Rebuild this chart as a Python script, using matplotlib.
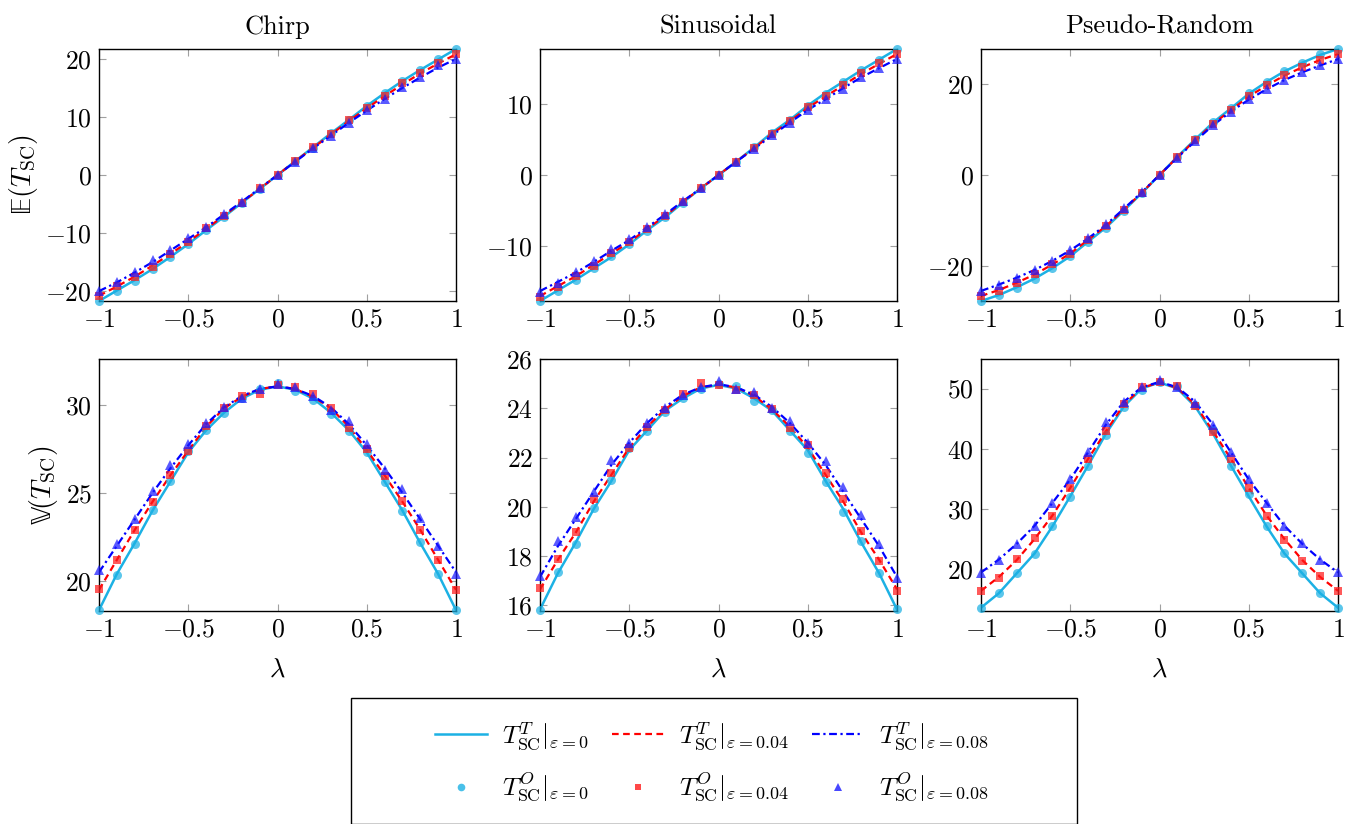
import matplotlib
matplotlib.use('Agg')
import matplotlib.pyplot as plt
from matplotlib.patches import Rectangle
from matplotlib.lines import Line2D

plt.rcParams['mathtext.fontset'] = 'cm'
plt.rcParams['font.family'] = ['cmr10', 'DejaVu Serif']
plt.rcParams['axes.formatter.use_mathtext'] = True

lam = [-1.0, -0.9, -0.8, -0.7, -0.6, -0.5, -0.4, -0.3, -0.2, -0.1, 0.0,
       0.1, 0.2, 0.3, 0.4, 0.5, 0.6, 0.7, 0.8, 0.9, 1.0]

titles = ['Chirp', 'Sinusoidal', 'Pseudo-Random']

# ---- expectation, theory (lines) ----
chirp_E_t0 = [-21.7, -19.9, -18.1, -16.2, -14.1, -11.9, -9.5, -7.2, -4.8, -2.4, 0.0,
              2.4, 4.8, 7.2, 9.5, 11.9, 14.1, 16.2, 18.1, 19.9, 21.7]
chirp_E_t4 = [-20.8, -19.2, -17.5, -15.6, -13.6, -11.5, -9.3, -7.0, -4.7, -2.4, 0.0,
              2.4, 4.7, 7.0, 9.3, 11.5, 13.6, 15.6, 17.5, 19.2, 20.8]
chirp_E_t8 = [-20.0, -18.5, -16.8, -15.0, -13.0, -11.0, -9.0, -6.8, -4.6, -2.3, 0.0,
              2.3, 4.6, 6.8, 9.0, 11.1, 13.1, 15.0, 16.8, 18.5, 20.0]
sin_E_t0 = [-17.8, -16.3, -14.8, -13.2, -11.6, -9.8, -7.8, -6.0, -3.9, -1.9, 0.0,
            1.9, 3.9, 6.0, 7.8, 9.8, 11.6, 13.2, 14.8, 16.3, 17.8]
sin_E_t4 = [-17.1, -15.7, -14.3, -12.7, -11.1, -9.5, -7.6, -5.8, -3.8, -1.9, 0.0,
            1.9, 3.8, 5.8, 7.6, 9.5, 11.1, 12.7, 14.3, 15.7, 17.1]
sin_E_t8 = [-16.4, -15.1, -13.8, -12.3, -10.7, -9.2, -7.4, -5.6, -3.7, -1.9, 0.0,
            1.9, 3.7, 5.6, 7.4, 9.2, 10.7, 12.3, 13.8, 15.1, 16.4]
prn_E_t0 = [-27.6, -26.3, -24.6, -22.7, -20.4, -17.8, -14.6, -11.5, -7.8, -4.0, 0.0,
            4.0, 7.8, 11.5, 14.6, 17.8, 20.4, 22.7, 24.6, 26.3, 27.6]
prn_E_t4 = [-26.5, -25.2, -23.6, -21.8, -19.6, -17.2, -14.2, -11.2, -7.6, -3.9, 0.0,
            3.9, 7.6, 11.2, 14.2, 17.2, 19.6, 21.8, 23.6, 25.2, 26.5]
prn_E_t8 = [-25.4, -24.0, -22.5, -20.8, -18.8, -16.5, -13.9, -10.9, -7.4, -3.8, 0.0,
            3.8, 7.4, 10.9, 13.9, 16.5, 18.8, 20.8, 22.5, 24.0, 25.4]

# ---- expectation, observed (markers) ----
chirp_E_o0 = [-21.7, -20.0, -18.2, -16.2, -14.1, -11.8, -9.5, -7.2, -4.8, -2.4, 0.0,
              2.4, 4.7, 7.3, 9.4, 11.9, 14.2, 16.2, 18.1, 20.0, 21.7]
chirp_E_o4 = [-20.9, -19.2, -17.6, -15.8, -13.6, -11.6, -9.2, -7.0, -4.8, -2.3, 0.0,
              2.4, 4.8, 7.0, 9.4, 11.5, 13.6, 15.8, 17.5, 19.3, 20.8]
chirp_E_o8 = [-20.0, -18.4, -16.7, -14.7, -12.9, -10.9, -8.9, -6.7, -4.6, -2.3, 0.0,
              2.3, 4.6, 6.8, 8.9, 11.2, 13.1, 15.1, 16.8, 19.0, 20.0]
sin_E_o0 = [-17.8, -16.4, -14.9, -13.2, -11.5, -9.8, -7.9, -5.9, -3.9, -1.9, 0.0,
            1.9, 3.9, 6.0, 7.8, 9.8, 11.5, 13.2, 14.8, 16.3, 17.8]
sin_E_o4 = [-17.2, -15.8, -14.3, -12.8, -11.0, -9.5, -7.6, -5.8, -3.8, -1.9, 0.0,
            1.9, 3.8, 5.8, 7.6, 9.6, 11.1, 12.7, 14.4, 15.8, 17.1]
sin_E_o8 = [-16.5, -15.2, -13.7, -12.1, -10.5, -9.0, -7.3, -5.5, -3.7, -1.8, 0.0,
            1.9, 3.7, 5.6, 7.4, 9.2, 10.8, 12.2, 13.8, 15.1, 16.4]
prn_E_o0 = [-27.6, -26.3, -24.7, -22.7, -20.4, -17.8, -14.7, -11.5, -7.8, -4.0, 0.0,
            4.0, 7.8, 11.6, 14.7, 17.9, 20.4, 22.7, 24.6, 26.4, 27.6]
prn_E_o4 = [-26.6, -25.3, -23.6, -21.7, -19.6, -17.3, -14.3, -11.2, -7.7, -3.9, 0.0,
            3.9, 7.6, 11.2, 14.3, 17.2, 19.7, 21.8, 23.7, 25.3, 26.5]
prn_E_o8 = [-25.5, -24.0, -22.5, -20.8, -18.8, -16.4, -13.9, -10.8, -7.3, -3.8, 0.0,
            3.8, 7.5, 10.9, 13.8, 16.6, 18.9, 20.8, 22.5, 24.1, 25.4]

# ---- variance, theory (lines) ----
chirp_V_t0 = [18.35, 20.4, 22.15, 24.0, 25.65, 27.3, 28.55, 29.55, 30.35, 30.85, 31.05,
              30.85, 30.35, 29.55, 28.55, 27.3, 25.65, 24.0, 22.15, 20.4, 18.35]
chirp_V_t4 = [19.5, 21.2, 22.9, 24.5, 26.0, 27.4, 28.75, 29.8, 30.45, 30.9, 31.05,
              30.9, 30.45, 29.8, 28.75, 27.45, 26.0, 24.5, 22.9, 21.2, 19.5]
chirp_V_t8 = [20.5, 22.0, 23.5, 25.0, 26.4, 27.7, 28.9, 29.85, 30.5, 30.9, 31.05,
              30.9, 30.5, 29.85, 28.9, 27.7, 26.4, 25.0, 23.5, 22.0, 20.5]
sin_V_t0 = [15.83, 17.3, 18.55, 19.9, 21.05, 22.3, 23.1, 23.9, 24.4, 24.8, 24.95,
            24.8, 24.4, 23.9, 23.1, 22.3, 21.05, 19.9, 18.55, 17.3, 15.83]
sin_V_t4 = [16.65, 17.85, 18.95, 20.2, 21.3, 22.4, 23.25, 23.95, 24.5, 24.85, 24.95,
            24.85, 24.5, 23.95, 23.25, 22.4, 21.3, 20.2, 18.95, 17.85, 16.65]
sin_V_t8 = [17.15, 18.4, 19.5, 20.6, 21.7, 22.6, 23.4, 24.05, 24.55, 24.85, 24.98,
            24.85, 24.55, 24.05, 23.4, 22.6, 21.7, 20.6, 19.5, 18.4, 17.15]
prn_V_t0 = [13.6, 16.0, 19.3, 22.6, 27.1, 32.1, 37.2, 42.5, 47.0, 50.0, 51.0,
            50.0, 47.0, 42.5, 37.2, 32.1, 27.1, 22.6, 19.3, 16.0, 13.6]
prn_V_t4 = [16.4, 18.7, 21.5, 25.0, 28.9, 33.5, 38.3, 42.9, 47.3, 50.1, 51.0,
            50.1, 47.3, 42.9, 38.3, 33.5, 28.9, 25.0, 21.5, 18.7, 16.4]
prn_V_t8 = [19.45, 21.6, 24.2, 27.2, 31.0, 34.9, 39.4, 44.0, 47.8, 50.2, 51.1,
            50.2, 47.8, 44.0, 39.4, 34.9, 31.0, 27.2, 24.2, 21.6, 19.45]

# ---- variance, observed (markers) ----
chirp_V_o0 = [18.35, 20.36, 22.1, 24.03, 25.7, 27.36, 28.58, 29.55, 30.4, 30.9, 31.23,
              30.8, 30.3, 29.5, 28.5, 27.3, 25.6, 24.0, 22.2, 20.4, 18.35]
chirp_V_o4 = [19.55, 21.2, 22.9, 24.5, 26.0, 27.4, 28.8, 29.8, 30.5, 30.6, 31.1,
              31.0, 30.6, 29.8, 28.7, 27.5, 25.95, 24.55, 22.9, 21.2, 19.5]
chirp_V_o8 = [20.6, 22.1, 23.5, 25.1, 26.6, 27.8, 28.95, 29.9, 30.4, 30.9, 31.2,
              31.0, 30.5, 29.7, 29.1, 27.75, 26.3, 25.2, 23.6, 22.0, 20.4]
sin_V_o0 = [15.83, 17.37, 18.5, 19.97, 21.1, 22.37, 23.07, 23.86, 24.4, 24.8, 24.97,
            24.9, 24.3, 23.93, 23.07, 22.2, 21.0, 19.8, 18.6, 17.3, 15.87]
sin_V_o4 = [16.72, 17.87, 18.97, 20.3, 21.37, 22.4, 23.25, 23.93, 24.58, 25.03, 24.96,
            24.75, 24.55, 23.97, 23.2, 22.5, 21.37, 20.3, 19.0, 17.8, 16.6]
sin_V_o8 = [17.2, 18.6, 19.6, 20.6, 21.9, 22.6, 23.4, 24.0, 24.55, 24.87, 25.1,
            24.8, 24.68, 24.03, 23.5, 22.6, 21.86, 20.8, 19.66, 18.5, 17.1]
prn_V_o0 = [13.6, 16.0, 19.3, 22.5, 27.1, 31.9, 37.2, 42.3, 46.9, 49.7, 51.1,
            50.4, 47.2, 43.05, 37.1, 32.4, 27.1, 22.6, 19.3, 16.1, 13.6]
prn_V_o4 = [16.4, 18.5, 21.7, 25.1, 28.9, 33.5, 38.3, 42.9, 47.5, 50.3, 51.0,
            50.4, 47.1, 42.8, 38.3, 33.5, 28.9, 24.8, 21.3, 18.9, 16.45]
prn_V_o8 = [19.4, 21.5, 24.2, 27.1, 31.0, 34.9, 39.4, 44.4, 47.8, 50.2, 51.4,
            50.2, 47.6, 44.0, 39.4, 34.9, 31.0, 27.2, 24.3, 21.5, 19.5]

theory = [[(chirp_E_t0, chirp_E_t4, chirp_E_t8), (sin_E_t0, sin_E_t4, sin_E_t8), (prn_E_t0, prn_E_t4, prn_E_t8)],
          [(chirp_V_t0, chirp_V_t4, chirp_V_t8), (sin_V_t0, sin_V_t4, sin_V_t8), (prn_V_t0, prn_V_t4, prn_V_t8)]]
observed = [[(chirp_E_o0, chirp_E_o4, chirp_E_o8), (sin_E_o0, sin_E_o4, sin_E_o8), (prn_E_o0, prn_E_o4, prn_E_o8)],
            [(chirp_V_o0, chirp_V_o4, chirp_V_o8), (sin_V_o0, sin_V_o4, sin_V_o8), (prn_V_o0, prn_V_o4, prn_V_o8)]]

ylims = [[(-21.7, 21.7), (-17.8, 17.8), (-27.6, 27.6)],
         [(18.3, 32.6), (15.77, 26.0), (13.05, 54.9)]]
yticks = [[[-20, -10, 0, 10, 20], [-10, 0, 10], [-20, 0, 20]],
          [[20, 25, 30], [16, 18, 20, 22, 24, 26], [20, 30, 40, 50]]]
xticks = [-1, -0.5, 0, 0.5, 1]
xticklabels = ['$-1$', '$-0.5$', '$0$', '$0.5$', '$1$']
ylabels = ['\U0001D53C$(T_{\\mathrm{SC}})$', '\U0001D54D$(T_{\\mathrm{SC}})$']

line_colors = ['#1cb1e4', '#ff0000', '#0000ff']
line_styles = ['-', (0, (3.0, 2.0)), (0, (3.5, 1.6, 1.0, 1.6))]
line_widths = [1.8, 1.6, 1.6]
mark_colors = ['#1cb1e4', '#ff1a1a', '#1a1aff']
mark_shapes = ['o', 's', '^']
mark_sizes = [6.5, 6.0, 6.5]

W, H = 1346, 824
fig = plt.figure(figsize=(W / 100, H / 100), dpi=100)
lefts = [99, 540, 981]
tops = [49, 359]
aw, ah = 357, 252

for r in range(2):
    for c in range(3):
        ax = fig.add_axes([lefts[c] / W, 1 - (tops[r] + ah) / H, aw / W, ah / H])
        for k in range(3):
            ax.plot(lam, theory[r][c][k], color=line_colors[k], ls=line_styles[k],
                    lw=line_widths[k], zorder=2)
        for k in range(3):
            ax.plot(lam, observed[r][c][k], ls='none', marker=mark_shapes[k],
                    ms=mark_sizes[k], color=mark_colors[k], alpha=0.72,
                    markeredgewidth=0, zorder=3, clip_on=False)
        ax.set_xlim(-1, 1)
        ax.set_ylim(*ylims[r][c])
        ax.set_xticks(xticks)
        ax.set_xticklabels(xticklabels)
        ax.set_yticks(yticks[r][c])
        ax.set_yticklabels(['$%g$' % v for v in yticks[r][c]])
        ax.tick_params(direction='in', top=True, right=True, length=5,
                       width=0.8, color='#a0a0a0', labelsize=18.5, pad=5)
        for sp in ax.spines.values():
            sp.set_linewidth(1.0)
        if r == 0:
            ax.set_title(titles[c], fontsize=19, pad=11)
        else:
            ax.set_xlabel(r'$\lambda$', fontsize=19, labelpad=12)
        if c == 0:
            ax.set_ylabel(ylabels[r], fontsize=20, labelpad=4,
                          family=['STIXGeneral', 'DejaVu Serif'])

# legend box
fig.patches.append(Rectangle((351 / W, 0), (1077 - 351) / W, 1 - 698 / H,
                             transform=fig.transFigure, fill=False,
                             edgecolor='black', lw=1.0))

eps = ['0', '0.04', '0.08']
handles = []
labels = []
for k in range(3):
    handles.append(Line2D([], [], color=line_colors[k], ls=line_styles[k], lw=line_widths[k]))
    labels.append(r'$T^{T}_{\mathrm{SC}}|_{\varepsilon{=}%s}$' % eps[k])
    handles.append(Line2D([], [], ls='none', marker=mark_shapes[k], ms=mark_sizes[k] - 1,
                          color=mark_colors[k], alpha=0.8, markeredgewidth=0))
    labels.append(r'$T^{O}_{\mathrm{SC}}|_{\varepsilon{=}%s}$' % eps[k])

fig.legend(handles, labels, ncol=3, loc='center', frameon=False,
           bbox_to_anchor=(712 / W, 1 - 762 / H), fontsize=18.5,
           handlelength=2.0, columnspacing=0.9, labelspacing=0.75,
           handletextpad=0.6)

fig.savefig('out.png', dpi=100)
